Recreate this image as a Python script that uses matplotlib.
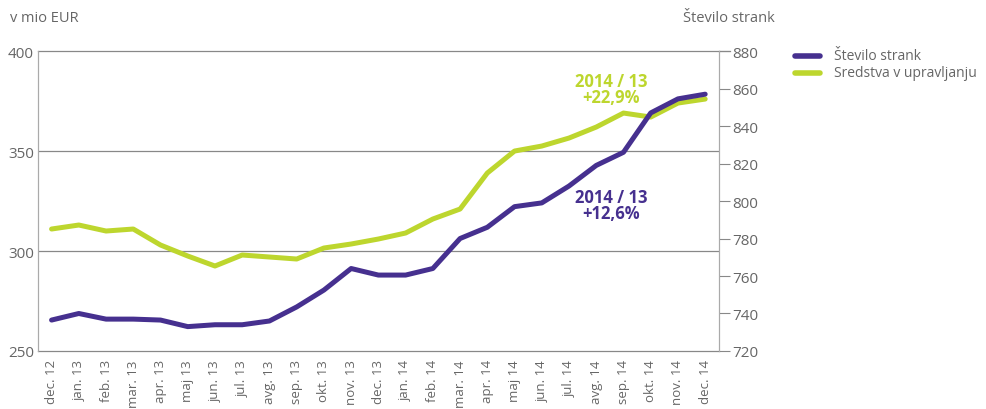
import matplotlib.pyplot as plt
import numpy as np

plt.rcParams['font.family'] = ['Open Sans', 'DejaVu Sans']

# podatki
meseci = ["dec. 12", "jan. 13", "feb. 13", "mar. 13", "apr. 13", "maj 13", "jun. 13",
          "jul. 13", "avg. 13", "sep. 13", "okt. 13", "nov. 13", "dec. 13", "jan. 14",
          "feb. 14", "mar. 14", "apr. 14", "maj 14", "jun. 14", "jul. 14", "avg. 14",
          "sep. 14", "okt. 14", "nov. 14", "dec. 14"]
sredstva = [311, 313, 310, 311, 303, 297.5, 292.5, 298, 297, 296, 301.5, 303.5, 306,
            309, 316, 321, 339, 350, 352.5, 356.5, 362, 369, 367, 374, 376]
stranke = [736.5, 740, 737, 737, 736.5, 733, 734, 734, 736, 743.5, 752.5, 764, 760.5,
           760.5, 764, 780, 786, 797, 799, 808, 819, 826, 847, 854.5, 857]

vijolicna = "#46308f"
zelena = "#bdd62e"
siva = "#666666"

fig = plt.figure(figsize=(9.86, 4.10), dpi=100)
ax = fig.add_axes([0.0385, 0.1415, 0.6905, 0.7315])
ax2 = ax.twinx()

x = np.arange(len(meseci))
ax.plot(x, sredstva, color=zelena, lw=3.6, solid_capstyle="round", zorder=3)
ax2.plot(x, stranke, color=vijolicna, lw=3.6, solid_capstyle="round", zorder=3)

ax.set_xlim(-0.5, len(meseci) - 0.5)
ax.set_ylim(250, 400)
ax2.set_ylim(720, 880)

ax.set_yticks([250, 300, 350, 400])
ax2.set_yticks(np.arange(720, 881, 20))
for v in [300, 350]:
    ax.axhline(v, color="#888888", lw=0.9, zorder=1)

ax.set_xticks(x)
ax.set_xticklabels(meseci, rotation=90, fontsize=9.5, color=siva)
ax.tick_params(axis="x", length=0, pad=6)
ax.tick_params(axis="y", length=0, labelsize=11, labelcolor=siva, pad=3)
ax2.tick_params(axis="y", length=8, width=0.8, color="#888888", labelsize=11,
                labelcolor=siva, pad=2)

for a in (ax, ax2):
    for s in ["left", "right"]:
        a.spines[s].set_color("#aaaaaa")
        a.spines[s].set_linestyle((0, (1, 1)))
        a.spines[s].set_linewidth(0.8)
    a.spines["top"].set_visible(False)
    a.spines["bottom"].set_visible(False)
for s in ["top", "bottom"]:
    ax.spines[s].set_visible(True)
    ax.spines[s].set_color("#888888")
    ax.spines[s].set_linewidth(0.9)
# zgornja črta do konca kljukice na desni
ax.plot([1.0, 1.016], [1.0, 1.0], transform=ax.transAxes, color="#888888",
        lw=0.9, clip_on=False)

fig.text(0.010, 0.955, "v mio EUR", fontsize=10.5, color=siva, va="center", ha="left")
fig.text(0.693, 0.955, "Število strank", fontsize=10.5, color=siva, va="center", ha="left")

ax2.text(20.55, 860, "2014 / 13\n+22,9%", color=zelena, fontsize=12, fontweight="bold",
         ha="center", va="center", linespacing=0.85)
ax2.text(20.55, 798, "2014 / 13\n+12,6%", color=vijolicna, fontsize=12, fontweight="bold",
         ha="center", va="center", linespacing=0.85)

# legenda
fig.lines.append(plt.Line2D([0.806, 0.832], [0.862, 0.862], transform=fig.transFigure,
                            color=vijolicna, lw=4, solid_capstyle="round"))
fig.lines.append(plt.Line2D([0.806, 0.832], [0.82, 0.82], transform=fig.transFigure,
                            color=zelena, lw=4, solid_capstyle="round"))
fig.text(0.846, 0.862, "Število strank", fontsize=10, color=siva, va="center")
fig.text(0.846, 0.82, "Sredstva v upravljanju", fontsize=10, color=siva, va="center")

plt.savefig("out.png", dpi=100)
